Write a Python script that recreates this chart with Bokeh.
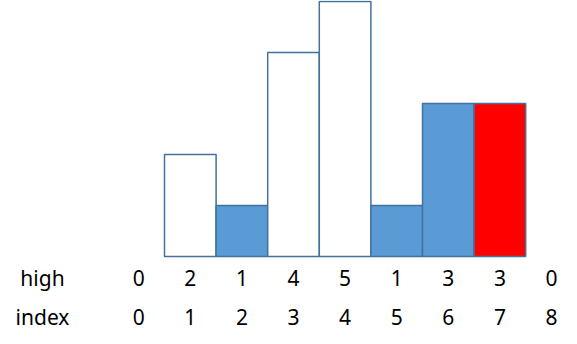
from bokeh.plotting import figure
from bokeh.models import Range1d, ColumnDataSource
from bokeh.core.properties import value
from bokeh.embed import file_html
from bokeh.resources import INLINE

index = [0, 1, 2, 3, 4, 5, 6, 7, 8]
high = [0, 2, 1, 4, 5, 1, 3, 3, 0]
fills = ["white", "white", "#5B9BD5", "white", "white", "#5B9BD5", "#5B9BD5", "#FF0000", "white"]
row_labels = ["high", "index"]

W, H = 577, 344
px_x = 51.6
x0 = 138.2
px_y = 51.0
base = 256.0

p = figure(width=W, height=H, output_backend="svg", toolbar_location=None,
           min_border=0, x_range=Range1d(-x0 / px_x, (W - x0) / px_x),
           y_range=Range1d(-(H - base) / px_y, base / px_y))
p.axis.visible = False
p.grid.visible = False
p.outline_line_color = None
p.background_fill_color = "white"
p.border_fill_color = "white"

bi = [i for i, h in zip(index, high) if h > 0]
bh = [h for h in high if h > 0]
bf = [f for f, h in zip(fills, high) if h > 0]
src = ColumnDataSource(dict(left=[i - 0.5 for i in bi], right=[i + 0.5 for i in bi],
                            top=bh, bottom=[0] * len(bi), fill=bf))
p.quad(left="left", right="right", top="top", bottom="bottom", source=src,
       fill_color="fill", line_color="#41719C", line_width=1.5)

y_high = -21 / px_y
y_index = -60 / px_y
font = value("Noto Sans")
fs = "21px"
p.text(x=index, y=[y_high] * len(index), text=[str(h) for h in high],
       text_align="center", text_baseline="middle", text_font=font,
       text_font_size=fs, text_color="black")
p.text(x=index, y=[y_index] * len(index), text=[str(i) for i in index],
       text_align="center", text_baseline="middle", text_font=font,
       text_font_size=fs, text_color="black")
lx = (42 - x0) / px_x
p.text(x=[lx, lx], y=[y_high, y_index], text=row_labels,
       text_align="center", text_baseline="middle", text_font=font,
       text_font_size=fs, text_color="black")

open("out.html", "w").write(file_html(p, INLINE))
